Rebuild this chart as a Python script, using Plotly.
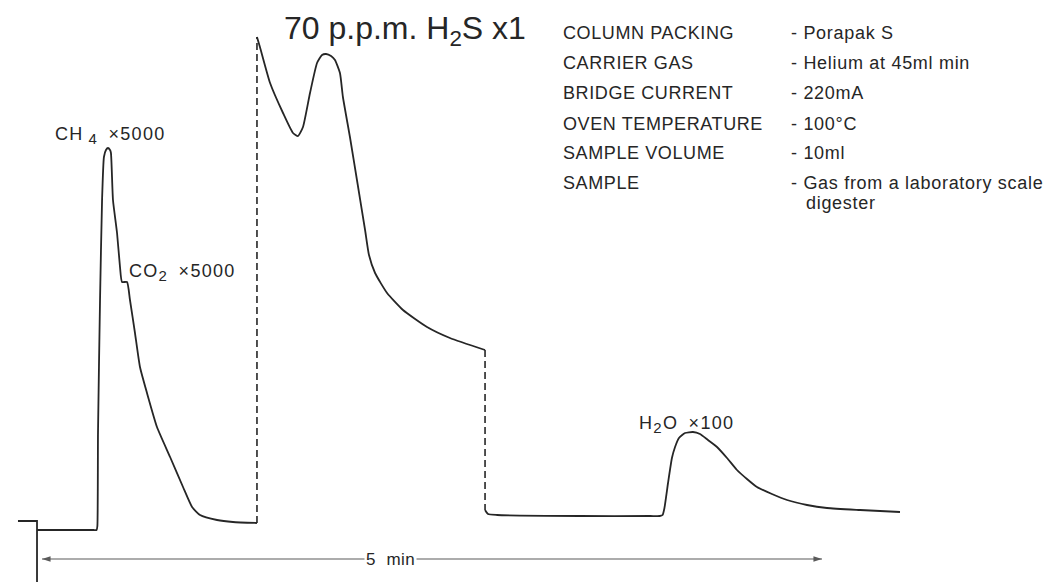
import plotly.graph_objects as go

# ---- data (time in minutes, detector response in arbitrary units) ----
inject_t = [-0.154, -0.032, -0.032]
inject_s = [9, 9, -52]

ch4_co2_t = [-0.032, 0.200, 0.330, 0.350, 0.355, 0.359, 0.372, 0.385, 0.397, 0.410,
             0.423, 0.436, 0.442, 0.455, 0.481, 0.500, 0.513, 0.545, 0.564, 0.596,
             0.628, 0.673, 0.737, 0.821, 0.904, 0.962, 1.013, 1.122, 1.224, 1.378]
ch4_co2_s = [0, 0, 0, 0, 4, 97, 230, 330, 373, 380,
             382, 380, 377, 330, 297, 263, 248, 248, 230, 197,
             163, 137, 103, 73, 43, 23, 15, 10, 8, 7]

jump1_t = [1.378, 1.378]
jump1_s = [7, 493]

h2s_t = [1.378, 1.397, 1.462, 1.545, 1.609, 1.641, 1.673, 1.718, 1.763, 1.795,
         1.821, 1.853, 1.878, 1.910, 1.929, 1.974, 2.019, 2.071, 2.096, 2.135,
         2.212, 2.314, 2.468, 2.615, 2.840]
h2s_s = [493, 483, 447, 417, 397, 394, 403, 437, 467, 475,
         476, 474, 470, 457, 433, 393, 350, 300, 275, 257,
         237, 220, 203, 192, 180]

jump2_t = [2.840, 2.840]
jump2_s = [180, 20]

h2o_t = [2.840, 2.859, 2.917, 3.449, 3.900, 3.960, 3.978, 3.990, 4.013, 4.038,
         4.058, 4.083, 4.122, 4.173, 4.218, 4.269, 4.327, 4.391, 4.455, 4.519,
         4.583, 4.679, 4.776, 4.904, 5.032, 5.244, 5.500]
h2o_s = [20, 16, 15, 14, 14, 14, 15, 22, 47, 72,
         83, 92, 97, 98, 96, 90, 83, 72, 60, 51,
         43, 36, 30, 25, 22, 20, 18]

time_bar = [0, 5]          # minutes spanned by the scale arrow
time_bar_level = -29
time_bar_label = "5\u00a0 min"

peak_labels = ["CH\u2009<sub>{4}</sub>\u2002\u00d75000",
               "CO<sub>{2}</sub>\u2002\u00d75000",
               "H<sub>{2}</sub>O\u2002\u00d7100"]
peak_label_digits = ["4", "2", "2"]
title_text = "70 p.p.m. H<sub>2</sub>S x1"

cond_names = ["COLUMN PACKING", "CARRIER GAS", "BRIDGE CURRENT",
              "OVEN TEMPERATURE", "SAMPLE VOLUME", "SAMPLE"]
cond_values = ["- Porapak S", "- Helium at 45ml min", "- 220mA",
               "- 100\u00b0C", "- 10ml", "- Gas from a laboratory scale"]
cond_cont = "digester"

# ---- styling ----
OFF = 8                      # page body margin of the browser
W, H = 1064 - OFF, 582 - OFF
INK = "#262626"
FONT = "Liberation Sans, Arial, Helvetica, sans-serif"
XR = [(OFF - 42) / 156, (1064 - 42) / 156]
YR = [530 - 582, 530 - OFF]

fig = go.Figure()
solid = dict(color=INK, width=1.8, shape="spline", smoothing=0.5)
straight = dict(color=INK, width=1.8)
dashed = dict(color=INK, width=1.6, dash="7px,4px")

for tt, ss, ln in [(inject_t, inject_s, straight), (ch4_co2_t, ch4_co2_s, solid),
                   (jump1_t, jump1_s, dashed), (h2s_t, h2s_s, solid),
                   (jump2_t, jump2_s, dashed), (h2o_t, h2o_s, solid)]:
    fig.add_trace(go.Scatter(x=tt, y=ss, mode="lines", line=ln,
                             hoverinfo="skip", showlegend=False))

# time scale arrow
fig.add_trace(go.Scatter(
    x=time_bar, y=[time_bar_level] * 2, mode="lines+markers",
    line=dict(color="#5a5a5a", width=1.1),
    marker=dict(symbol="arrow", size=9, angle=[-90, 90], color="#5a5a5a",
                line=dict(width=0)),
    hoverinfo="skip", showlegend=False))


def px(x, y):
    return (x - OFF) / W, 1 - (y - OFF) / H


ann = []


def label(text, x, y, size, spacing=0.0, anchor="left", bg=None):
    xp, yp = px(x, y)
    if spacing:
        text = '<span style="letter-spacing:%.1fpx">%s</span>' % (spacing, text)
    d = dict(x=xp, y=yp, xref="paper", yref="paper", text=text,
             showarrow=False, xanchor=anchor, yanchor="middle",
             font=dict(family=FONT, size=size, color=INK))
    if bg:
        d.update(bgcolor=bg, borderpad=1)
    ann.append(d)


label(time_bar_label, 390, 559, 17, spacing=0.5, anchor="center", bg="white")
label(title_text, 282, 30, 32)

sub_span = '<span style="font-size:15px">%s</span>'
for txt, dig, (lx, ly) in zip(peak_labels, peak_label_digits,
                              [(53, 136), (127, 272), (637, 424)]):
    label(txt.replace("{%s}" % dig, sub_span % dig), lx, ly, 18, spacing=1.3)

rows_y = [33, 63, 93, 124, 153, 183]
for name, val, yy in zip(cond_names, cond_values, rows_y):
    label(name, 561, yy, 18, spacing=0.6)
    label(val, 789, yy, 18, spacing=0.7)
label(cond_cont, 804, 203, 18, spacing=0.7)

fig.update_layout(
    width=W, height=H, margin=dict(l=0, r=0, t=0, b=0),
    paper_bgcolor="white", plot_bgcolor="white",
    xaxis=dict(range=XR, visible=False, fixedrange=True),
    yaxis=dict(range=YR, visible=False, fixedrange=True),
    annotations=ann, showlegend=False,
)
fig.write_html("out.html")
